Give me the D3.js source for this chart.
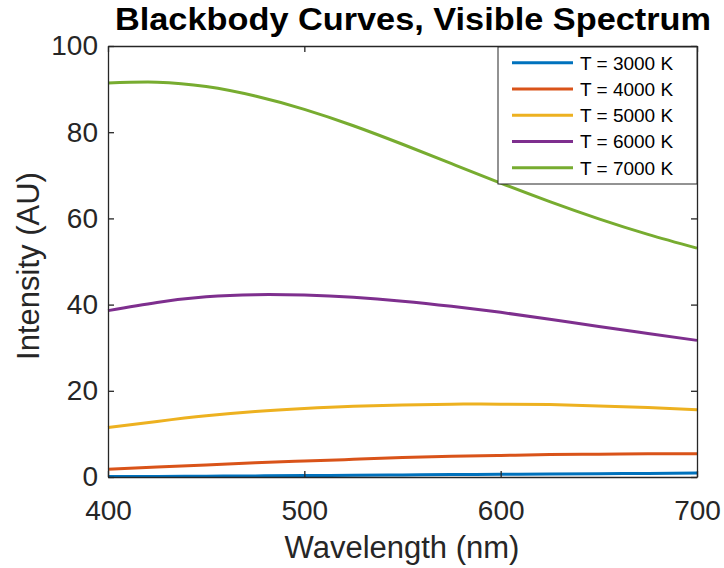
<!DOCTYPE html>
<html>
<head>
<meta charset="utf-8">
<script src="https://cdn.jsdelivr.net/npm/d3@7"></script>
<style>
  html, body { margin: 0; padding: 0; background: #fff; }
  svg { display: block; font-family: "Liberation Sans", Arial, Helvetica, sans-serif; }
</style>
</head>
<body>
<svg id="chart" width="724" height="568"></svg>
<script>
// ---- data ----
const wavelengths = [400, 425, 450, 475, 500, 525, 550, 575, 600, 625, 650, 675, 700];
const seriesNames = ["T = 3000 K", "T = 4000 K", "T = 5000 K", "T = 6000 K", "T = 7000 K"];
const t3000 = [0.10, 0.12, 0.18, 0.25, 0.32, 0.40, 0.48, 0.56, 0.63, 0.70, 0.77, 0.83, 0.90];
const t4000 = [1.8, 2.3, 2.8, 3.3, 3.7, 4.1, 4.5, 4.8, 5.0, 5.2, 5.3, 5.4, 5.4];
const t5000 = [11.5, 12.9, 14.2, 15.2, 15.9, 16.4, 16.7, 16.9, 16.9, 16.8, 16.5, 16.1, 15.6];
const t6000 = [38.6, 40.5, 41.8, 42.3, 42.2, 41.7, 40.8, 39.6, 38.2, 36.6, 34.9, 33.3, 31.7];
const t7000 = [91.4, 91.6, 90.6, 88.4, 85.3, 81.5, 77.2, 72.7, 68.2, 63.9, 59.9, 56.3, 53.1];
const xTicks = [400, 500, 600, 700];
const yTicks = [0, 20, 40, 60, 80, 100];
const titleText = "Blackbody Curves, Visible Spectrum";
const xLabelText = "Wavelength (nm)";
const yLabelText = "Intensity (AU)";

const allSeries = [t3000, t4000, t5000, t6000, t7000];
const colors = ["#0072BD", "#D95319", "#EDB120", "#7E2F8E", "#77AC30"];

// ---- layout ----
const svg = d3.select("#chart");
const pL = 108, pR = 697, pT = 46, pB = 477;
const axisColor = "#262626";

const x = d3.scaleLinear().domain([400, 700]).range([pL, pR]);
const y = d3.scaleLinear().domain([0, 100]).range([pB, pT]);

svg.append("rect").attr("x", pL).attr("y", pT)
  .attr("width", pR - pL).attr("height", pB - pT).attr("fill", "#fff");

// lines
const line = d3.line().x((d, i) => x(wavelengths[i])).y(d => y(d)).curve(d3.curveNatural);
const plot = svg.append("g");
allSeries.forEach((s, k) => {
  plot.append("path").datum(s)
    .attr("d", line)
    .attr("fill", "none")
    .attr("stroke", colors[k])
    .attr("stroke-width", 3)
    .attr("stroke-linejoin", "round");
});

// axes (box with inward ticks on all sides)
const tickLen = 6;
const axB = d3.axisBottom(x).tickValues(xTicks).tickSizeInner(-tickLen).tickSizeOuter(0).tickPadding(23);
const axT = d3.axisTop(x).tickValues(xTicks).tickSizeInner(-tickLen).tickSizeOuter(0).tickFormat("");
const axL = d3.axisLeft(y).tickValues(yTicks).tickSizeInner(-tickLen).tickSizeOuter(0).tickPadding(10);
const axR = d3.axisRight(y).tickValues(yTicks).tickSizeInner(-tickLen).tickSizeOuter(0).tickFormat("");

function styleAxis(g) {
  g.select(".domain").attr("stroke", axisColor).attr("stroke-width", 1.3);
  g.selectAll(".tick line").attr("stroke", axisColor).attr("stroke-width", 1.3);
  g.selectAll(".tick text").attr("fill", axisColor).style("font-size", "28px")
    .style("font-family", '"Liberation Sans", Arial, sans-serif');
}
svg.append("g").attr("transform", `translate(0,${pB})`).call(axB).call(styleAxis);
svg.append("g").attr("transform", `translate(0,${pT})`).call(axT).call(styleAxis);
svg.append("g").attr("transform", `translate(${pL},0)`).call(axL).call(styleAxis);
svg.append("g").attr("transform", `translate(${pR},0)`).call(axR).call(styleAxis);

// axis labels
svg.append("text").attr("x", 402).attr("y", 558)
  .attr("text-anchor", "middle").attr("fill", axisColor)
  .style("font-size", "31px").text(xLabelText);
svg.append("text")
  .attr("transform", `translate(39,266) rotate(-90)`)
  .attr("text-anchor", "middle").attr("fill", axisColor)
  .style("font-size", "31px").text(yLabelText);

// title
svg.append("text").attr("x", 413).attr("y", 30)
  .attr("text-anchor", "middle").attr("fill", "#000")
  .attr("textLength", 596).attr("lengthAdjust", "spacingAndGlyphs")
  .style("font-size", "31px").style("font-weight", "bold").text(titleText);

// legend
const lgX = 498, lgY = 47, lgW = pR - 498, lgH = 137;
const lg = svg.append("g");
lg.append("rect").attr("x", lgX).attr("y", lgY).attr("width", lgW).attr("height", lgH)
  .attr("fill", "#fff").attr("stroke", axisColor).attr("stroke-width", 1);
const rowY = d3.scaleLinear().domain([0, 4]).range([62.7, 167.7]);
seriesNames.forEach((name, k) => {
  const yy = rowY(k);
  lg.append("line").attr("x1", 512).attr("x2", 573).attr("y1", yy).attr("y2", yy)
    .attr("stroke", colors[k]).attr("stroke-width", 3);
  lg.append("text").attr("x", 580).attr("y", yy).attr("dy", "0.36em")
    .attr("fill", "#000").style("font-size", "19px").text(name);
});
</script>
</body>
</html>
